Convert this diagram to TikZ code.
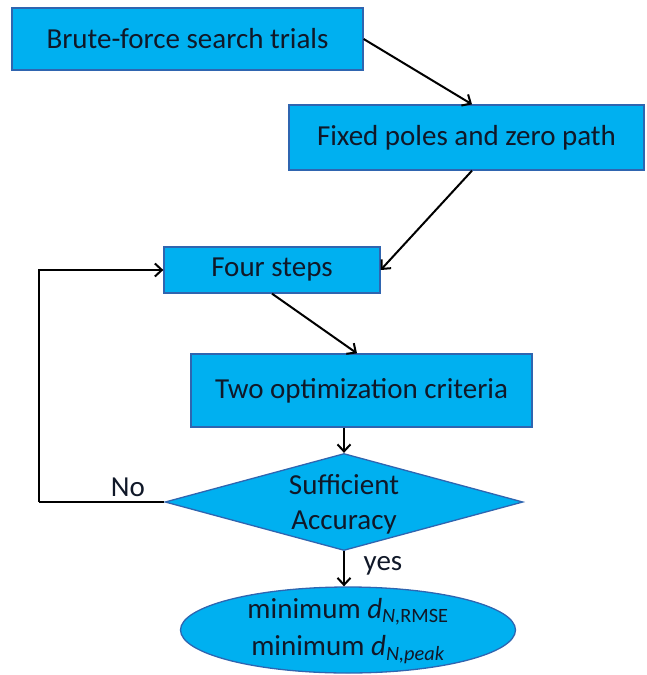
\documentclass[tikz,border=0pt]{standalone}
\usepackage{fontspec}
\setmainfont{Carlito}
\usetikzlibrary{shapes.geometric,arrows.meta}
\definecolor{boxfill}{HTML}{00B0F0}
\definecolor{boxline}{HTML}{2F65B0}
\definecolor{ink}{HTML}{101828}

\begin{document}
\begin{tikzpicture}[x=1pt,y=-1pt,
  every node/.style={font=\fontsize{29}{35}\selectfont, text=ink},
  block/.style={rectangle, draw=boxline, fill=boxfill, line width=1.3pt, inner sep=0pt},
  decision/.style={diamond, draw=boxline, fill=boxfill, line width=1.3pt, inner sep=0pt},
  terminal/.style={ellipse, draw=boxline, fill=boxfill, line width=1.3pt, inner sep=0pt},
  flow/.style={line width=2pt, -{Straight Barb[length=7pt,width=13pt,line width=2pt]}},
  plain/.style={line width=2pt}]
\useasboundingbox (0,0) rectangle (647,675);

% process blocks
\node[block, minimum width=351pt, minimum height=62pt] (brute) at (187.5,39) {Brute-force search trials};
\node[block, minimum width=355pt, minimum height=65pt] (fixed) at (466.5,137.5) {Fixed poles and zero path};
\node[block, minimum width=216pt, minimum height=46pt] (four) at (272,270) {Four steps};
\node[block, minimum width=341pt, minimum height=73pt] (crit) at (361.5,390.5) {Two optimization criteria};

% decision and result
\node[decision, minimum width=358pt, minimum height=97pt] (acc) at (344,502) {};
\node[align=center] (acctext) at (344,504) {Sufficient\\Accuracy};
\node[terminal, minimum width=335pt, minimum height=86pt] (result) at (348,630) {};
\node[align=center, font=\fontsize{29}{37}\selectfont] (restext) at (348,631)
  {minimum \textit{d}\textsubscript{\textit{N,}RMSE}\\minimum \textit{d}\textsubscript{\textit{N,peak}}};

% connectors
\draw[flow] (brute.east) -- ([xshift=5.5pt]fixed.north);
\draw[flow] ([xshift=5.5pt]fixed.south) -- (four.east);
\draw[flow] (four.south) -- ([xshift=-4.5pt]crit.north);
\draw[flow] (crit.south -| acc.north) -- (acc.north);
\draw[flow] (acc.south) -- (acc.south |- result.north);
\coordinate (bend) at (39,502);
\draw[plain] (acc.west) -- (bend);
\draw[flow] (bend) |- (four.west);

% branch labels
\node (no) at (128,487) {No};
\node (yes) at (383,566) {yes};
\end{tikzpicture}
\end{document}
